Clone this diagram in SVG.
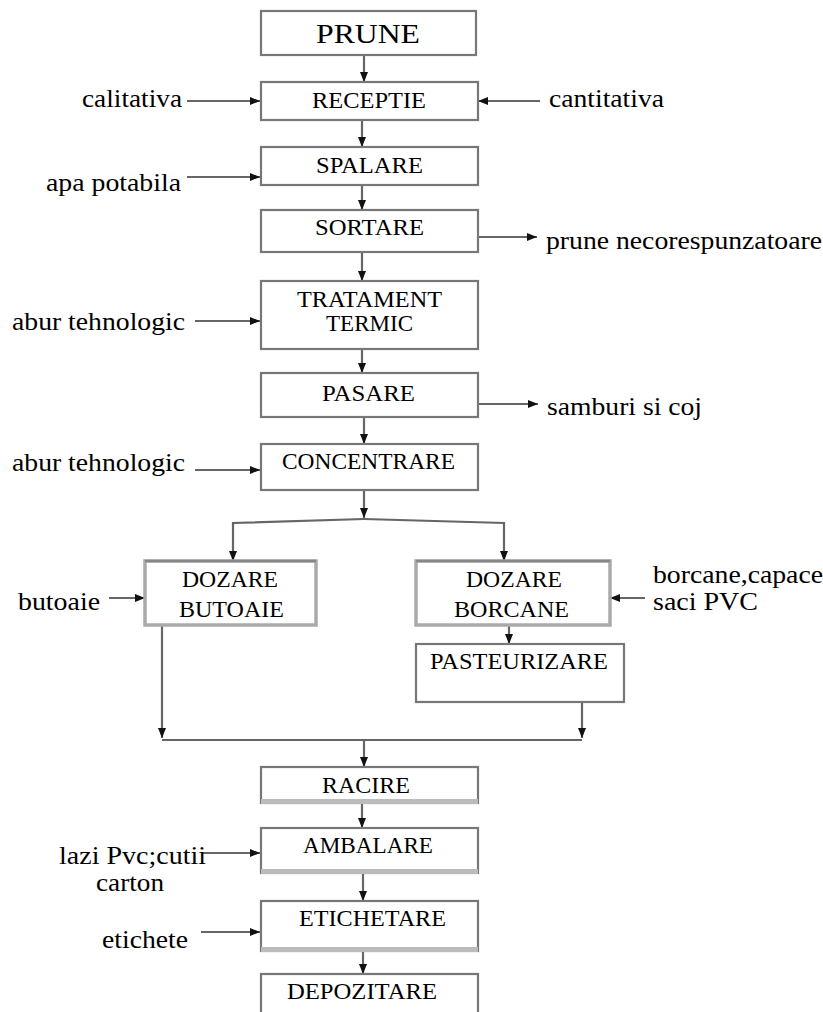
<svg xmlns="http://www.w3.org/2000/svg" width="823" height="1012" viewBox="0 0 823 1012">
<style>
.box{fill:#fff;stroke:#777;stroke-width:2.2}
.boxl{fill:#fff;stroke:#aaa;stroke-width:3.5}
.band{fill:#bbb}
.t{font-family:"Liberation Serif","Times New Roman",serif;font-size:24px;fill:#000}
.s{font-family:"Liberation Serif","Times New Roman",serif;font-size:26px;fill:#000}
.tb{font-family:"Liberation Serif","Times New Roman",serif;font-size:28px;fill:#000}
.c{fill:none;stroke:#666;stroke-width:2.2}
</style>
<defs>
<marker id="ah" markerUnits="userSpaceOnUse" markerWidth="10" markerHeight="10" viewBox="0 0 10 10" refX="10" refY="5" orient="auto">
<path d="M0,1 L10,5 L0,9 Z" fill="#111"/>
</marker>
</defs>
<g id="connectors">
<path class="c" d="M364,55 L364,82" marker-end="url(#ah)"/>
<path class="c" d="M187,101 L260,101" marker-end="url(#ah)"/>
<path class="c" d="M540,101 L478,101" marker-end="url(#ah)"/>
<path class="c" d="M362,120 L362,147" marker-end="url(#ah)"/>
<path class="c" d="M187,177 L260,177" marker-end="url(#ah)"/>
<path class="c" d="M362,185 L362,210" marker-end="url(#ah)"/>
<path class="c" d="M477,237 L537,237" marker-end="url(#ah)"/>
<path class="c" d="M362,252 L362,281" marker-end="url(#ah)"/>
<path class="c" d="M195,321 L260,321" marker-end="url(#ah)"/>
<path class="c" d="M362,349 L362,373" marker-end="url(#ah)"/>
<path class="c" d="M477,404 L538,404" marker-end="url(#ah)"/>
<path class="c" d="M364,417 L364,444" marker-end="url(#ah)"/>
<path class="c" d="M195,470 L260,470" marker-end="url(#ah)"/>
<path class="c" d="M364,490 L364,518" marker-end="url(#ah)"/>
<path class="c" d="M364,519 L233,523 L233,561" marker-end="url(#ah)"/>
<path class="c" d="M364,519 L504,523 L504,561" marker-end="url(#ah)"/>
<path class="c" d="M109,598 L145,598" marker-end="url(#ah)"/>
<path class="c" d="M645,598 L610,598" marker-end="url(#ah)"/>
<path class="c" d="M509,626 L509,644" marker-end="url(#ah)"/>
<path class="c" d="M162,626 L162,738" marker-end="url(#ah)"/>
<path class="c" d="M582,703 L582,738" marker-end="url(#ah)"/>
<path class="c" d="M162,740 L582,740"/>
<path class="c" d="M364,740 L364,767" marker-end="url(#ah)"/>
<path class="c" d="M362,803 L362,828" marker-end="url(#ah)"/>
<path class="c" d="M203,853 L260,853" marker-end="url(#ah)"/>
<path class="c" d="M363,873 L363,901" marker-end="url(#ah)"/>
<path class="c" d="M201,932 L260,932" marker-end="url(#ah)"/>
<path class="c" d="M363,951 L363,974" marker-end="url(#ah)"/>
</g>
<g id="prune"><rect class="box" x="261" y="11" width="215" height="44"/><text class="tb" x="316" y="43" textLength="104" lengthAdjust="spacingAndGlyphs">PRUNE</text></g>
<g id="receptie"><rect class="box" x="261" y="82" width="217" height="38"/><text class="t" x="312" y="108" textLength="114" lengthAdjust="spacingAndGlyphs">RECEPTIE</text></g>
<g id="calitativa"><text class="s" x="82" y="107" textLength="100" lengthAdjust="spacingAndGlyphs">calitativa</text></g>
<g id="cantitativa"><text class="s" x="549" y="107" textLength="115" lengthAdjust="spacingAndGlyphs">cantitativa</text></g>
<g id="spalare"><rect class="box" x="261" y="147" width="217" height="38"/><text class="t" x="316" y="173" textLength="107" lengthAdjust="spacingAndGlyphs">SPALARE</text></g>
<g id="apa"><text class="s" x="46" y="191" textLength="135" lengthAdjust="spacingAndGlyphs">apa potabila</text></g>
<g id="sortare"><rect class="box" x="261" y="210" width="217" height="42"/><text class="t" x="315" y="235" textLength="109" lengthAdjust="spacingAndGlyphs">SORTARE</text></g>
<g id="necoresp"><text class="s" x="546" y="249" textLength="276" lengthAdjust="spacingAndGlyphs">prune necorespunzatoare</text></g>
<g id="tratament"><rect class="box" x="261" y="281" width="217" height="68"/><text class="t" x="297" y="307" textLength="145" lengthAdjust="spacingAndGlyphs">TRATAMENT</text><text class="t" x="326" y="331" textLength="87" lengthAdjust="spacingAndGlyphs">TERMIC</text></g>
<g id="abur1"><text class="s" x="12" y="330" textLength="173" lengthAdjust="spacingAndGlyphs">abur tehnologic</text></g>
<g id="pasare"><rect class="box" x="261" y="373" width="217" height="44"/><text class="t" x="322" y="401" textLength="93" lengthAdjust="spacingAndGlyphs">PASARE</text></g>
<g id="samburi"><text class="s" x="547" y="415" textLength="155" lengthAdjust="spacingAndGlyphs">samburi si coj</text></g>
<g id="concentrare"><rect class="box" x="261" y="444" width="217" height="46"/><text class="t" x="282" y="469" textLength="173" lengthAdjust="spacingAndGlyphs">CONCENTRARE</text></g>
<g id="abur2"><text class="s" x="12" y="471" textLength="173" lengthAdjust="spacingAndGlyphs">abur tehnologic</text></g>
<g id="dozare-butoaie"><rect class="boxl" x="145" y="561" width="171" height="64"/><line x1="145" y1="561" x2="316" y2="561" stroke="#888" stroke-width="2.5"/><text class="t" x="182" y="587" textLength="96" lengthAdjust="spacingAndGlyphs">DOZARE</text><text class="t" x="179" y="617" textLength="105" lengthAdjust="spacingAndGlyphs">BUTOAIE</text></g>
<g id="butoaie"><text class="s" x="18" y="610" textLength="82" lengthAdjust="spacingAndGlyphs">butoaie</text></g>
<g id="dozare-borcane"><rect class="boxl" x="416" y="561" width="194" height="64"/><line x1="416" y1="561" x2="610" y2="561" stroke="#888" stroke-width="2.5"/><text class="t" x="466" y="587" textLength="96" lengthAdjust="spacingAndGlyphs">DOZARE</text><text class="t" x="454" y="617" textLength="115" lengthAdjust="spacingAndGlyphs">BORCANE</text></g>
<g id="borcane"><text class="s" x="653" y="583" textLength="170" lengthAdjust="spacingAndGlyphs">borcane,capace</text><text class="s" x="653" y="610" textLength="105" lengthAdjust="spacingAndGlyphs">saci PVC</text></g>
<g id="pasteurizare"><rect class="box" x="416" y="644" width="208" height="58"/><text class="t" x="430" y="669" textLength="178" lengthAdjust="spacingAndGlyphs">PASTEURIZARE</text></g>
<g id="racire"><rect class="box" x="261" y="767" width="217" height="36"/><rect class="band" x="261" y="799" width="217" height="5"/><text class="t" x="322" y="793" textLength="88" lengthAdjust="spacingAndGlyphs">RACIRE</text></g>
<g id="ambalare"><rect class="box" x="261" y="828" width="217" height="45"/><rect class="band" x="261" y="869" width="217" height="5"/><text class="t" x="303" y="853" textLength="130" lengthAdjust="spacingAndGlyphs">AMBALARE</text></g>
<g id="lazi"><text class="s" x="59" y="864" textLength="147" lengthAdjust="spacingAndGlyphs">lazi Pvc;cutii</text><text class="s" x="96" y="891" textLength="68" lengthAdjust="spacingAndGlyphs">carton</text></g>
<g id="etichetare"><rect class="box" x="261" y="901" width="217" height="50"/><rect class="band" x="261" y="947" width="217" height="5"/><text class="t" x="299" y="926" textLength="147" lengthAdjust="spacingAndGlyphs">ETICHETARE</text></g>
<g id="etichete"><text class="s" x="102" y="948" textLength="86" lengthAdjust="spacingAndGlyphs">etichete</text></g>
<g id="depozitare"><rect class="box" x="261" y="974" width="217" height="50"/><text class="t" x="287" y="999" textLength="150" lengthAdjust="spacingAndGlyphs">DEPOZITARE</text></g>
</svg>
